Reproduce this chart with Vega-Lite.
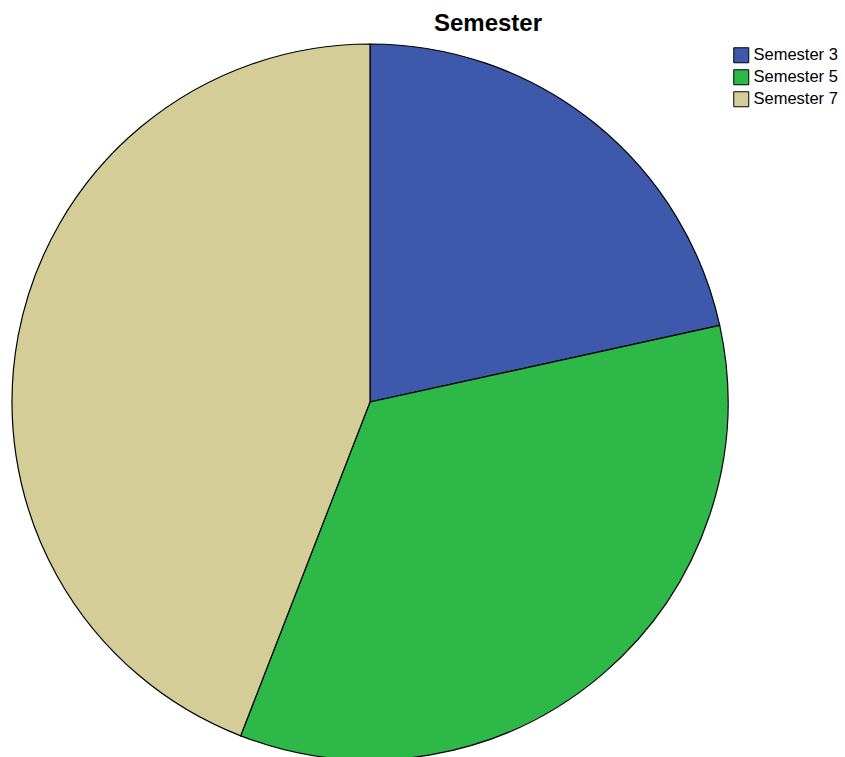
{
  "$schema": "https://vega.github.io/schema/vega-lite/v6.json",
  "autosize": "none",
  "padding": {"left": 0, "top": 0, "right": 105, "bottom": 0},
  "width": 740,
  "height": 804,
  "background": "white",
  "title": {
    "text": "Semester",
    "font": "Liberation Sans",
    "fontSize": 24,
    "fontWeight": "bold",
    "color": "black",
    "anchor": "middle",
    "frame": "group",
    "orient": "top",
    "offset": -36,
    "dx": 118
  },
  "data": {
    "values": [
      {"semester": "Semester 3", "count": 22, "order": 1},
      {"semester": "Semester 5", "count": 35, "order": 2},
      {"semester": "Semester 7", "count": 45, "order": 3}
    ]
  },
  "mark": {"type": "arc", "radius": 358, "stroke": "black", "strokeWidth": 1.2},
  "encoding": {
    "theta": {"field": "count", "type": "quantitative", "stack": true},
    "order": {"field": "order", "type": "quantitative"},
    "color": {
      "field": "semester",
      "type": "nominal",
      "scale": {
        "domain": ["Semester 3", "Semester 5", "Semester 7"],
        "range": ["#3e58ac", "#2eb848", "#d4cd98"]
      },
      "legend": {
        "title": null,
        "orient": "none",
        "legendX": 733,
        "legendY": 47,
        "symbolType": "square",
        "symbolSize": 225,
        "symbolStrokeColor": "black",
        "symbolStrokeWidth": 1,
        "symbolOpacity": 1,
        "labelFont": "Liberation Sans",
        "labelFontSize": 16.5,
        "labelColor": "black",
        "labelOffset": 4,
        "rowPadding": 2
      }
    }
  }
}
